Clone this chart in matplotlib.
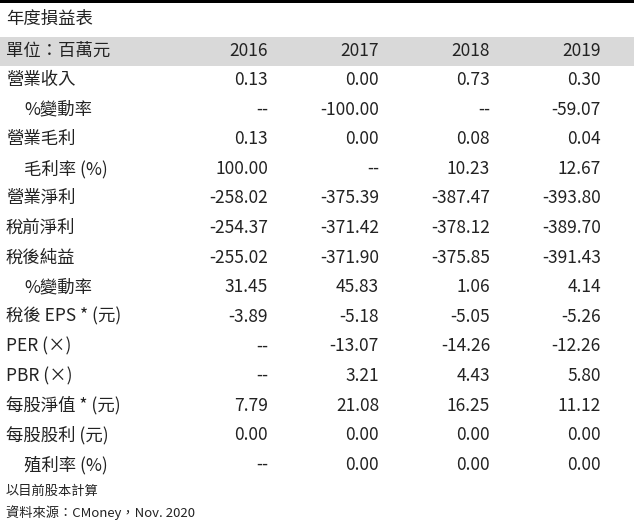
import matplotlib
matplotlib.use('Agg')
import matplotlib.pyplot as plt
from matplotlib.patches import Rectangle

plt.rcParams['font.family'] = 'Noto Sans CJK TC'

title = '年度損益表'
header = '單位：百萬元'
years = ['2016', '2017', '2018', '2019']
row_labels = ['營業收入', '%變動率', '營業毛利', '毛利率 (%)', '營業淨利', '稅前淨利',
              '稅後純益', '%變動率', '稅後 EPS * (元)', 'PER (×)', 'PBR (×)',
              '每股淨值 * (元)', '每股股利 (元)', '殖利率 (%)']
indented = [1, 3, 7, 13]
values = [
    ['0.13', '0.00', '0.73', '0.30'],
    ['--', '-100.00', '--', '-59.07'],
    ['0.13', '0.00', '0.08', '0.04'],
    ['100.00', '--', '10.23', '12.67'],
    ['-258.02', '-375.39', '-387.47', '-393.80'],
    ['-254.37', '-371.42', '-378.12', '-389.70'],
    ['-255.02', '-371.90', '-375.85', '-391.43'],
    ['31.45', '45.83', '1.06', '4.14'],
    ['-3.89', '-5.18', '-5.05', '-5.26'],
    ['--', '-13.07', '-14.26', '-12.26'],
    ['--', '3.21', '4.43', '5.80'],
    ['7.79', '21.08', '16.25', '11.12'],
    ['0.00', '0.00', '0.00', '0.00'],
    ['--', '0.00', '0.00', '0.00'],
]
notes = ['以目前股本計算', '資料來源：CMoney，Nov. 2020']

W, H = 634, 522
fig = plt.figure(figsize=(W / 100, H / 100), dpi=100)
ax = fig.add_axes([0, 0, 1, 1])
ax.set_xlim(0, W)
ax.set_ylim(H, 0)
ax.axis('off')

# top rule and header band
ax.add_patch(Rectangle((0, 0), W, 3, color='black', lw=0))
ax.add_patch(Rectangle((0, 37), W, 29, color='#d9d9d9', lw=0))

fs = 12.5
col = '#222222'
col_right = [268, 379, 490, 601]
ax.text(6, 19, title, fontsize=fs, va='center', ha='left', color=col)
ax.text(6, 51, header, fontsize=fs, va='center', ha='left', color=col)
for x, y in zip(col_right, years):
    ax.text(x, 51, y, fontsize=fs, va='center', ha='right', color=col)

row_h = 29.6
for i, (lab, vals) in enumerate(zip(row_labels, values)):
    yc = 80 + i * row_h
    lx = 24 if i in indented else 6
    ax.text(lx, yc, lab, fontsize=fs, va='center', ha='left', color=col)
    for x, v in zip(col_right, vals):
        ax.text(x, yc, v, fontsize=fs, va='center', ha='right', color=col)

ax.text(6, 491, notes[0], fontsize=9.5, va='center', ha='left', color=col)
ax.text(6, 513, notes[1], fontsize=9.5, va='center', ha='left', color=col)

fig.savefig('out.png', dpi=100)
